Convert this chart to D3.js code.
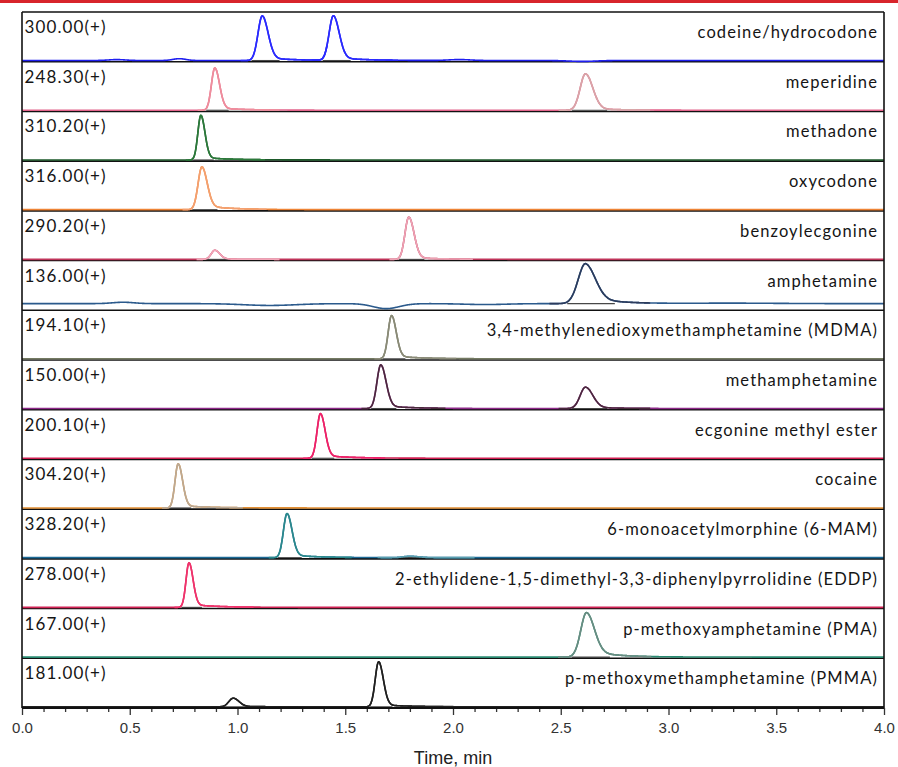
<!DOCTYPE html>
<html>
<head>
<meta charset="utf-8">
<script src="https://cdn.jsdelivr.net/npm/d3@7/dist/d3.min.js"></script>
<style>
  html, body { margin: 0; padding: 0; background: #ffffff; }
  svg { display: block; }
  .ion { font-family: Lato, "Open Sans", sans-serif; font-size: 17px; fill: #151515; letter-spacing: 1.1px; }
  .cmp { font-family: Lato, "Open Sans", sans-serif; font-size: 16.5px; fill: #151515; letter-spacing: 1.1px; }
  .axis text { font-family: "Liberation Sans", Arial, sans-serif; font-size: 15px; fill: #333; }
  .axis path { display: none; }
  .axis line { stroke: #333; stroke-width: 1.3; }
  .xtitle { font-family: "Liberation Sans", Arial, sans-serif; font-size: 18px; fill: #222; }
</style>
</head>
<body>
<script>
// MRM extracted-ion chromatograms, one trace per analyte
const compounds = [
  "codeine/hydrocodone", "meperidine", "methadone", "oxycodone", "benzoylecgonine",
  "amphetamine", "3,4-methylenedioxymethamphetamine (MDMA)", "methamphetamine",
  "ecgonine methyl ester", "cocaine", "6-monoacetylmorphine (6-MAM)",
  "2-ethylidene-1,5-dimethyl-3,3-diphenylpyrrolidine (EDDP)",
  "p-methoxyamphetamine (PMA)", "p-methoxymethamphetamine (PMMA)"
];
const ionLabels = [
  "300.00(+)", "248.30(+)", "310.20(+)", "316.00(+)", "290.20(+)", "136.00(+)",
  "194.10(+)", "150.00(+)", "200.10(+)", "304.20(+)", "328.20(+)", "278.00(+)",
  "167.00(+)", "181.00(+)"
];
// retention times (min), relative intensities and peak widths (sigma, min)
const peakTimes = [
  [1.115, 1.445], [0.895, 2.615], [0.83], [0.835], [0.895, 1.795], [2.615],
  [1.715], [1.665, 2.615], [1.385], [0.725], [1.23, 1.80], [0.775], [2.62], [0.98, 1.655]
];
const peakHeights = [
  [0.98, 0.98], [0.93, 0.80], [0.98], [0.94], [0.20, 0.93], [0.88],
  [0.95], [0.96, 0.47], [0.98], [0.97], [0.97, 0.03], [0.98], [0.98], [0.19, 0.99]
];
const peakWidths = [
  [0.020, 0.020], [0.016, 0.025], [0.014], [0.018], [0.017, 0.018], [0.034],
  [0.016], [0.018, 0.025], [0.016], [0.015], [0.017, 0.03], [0.014], [0.027], [0.02, 0.016]
];
// tailing fraction of each trace's peaks
const peakTailing = [0.07, 0.06, 0.06, 0.10, 0.05, 0.18, 0.07, 0.07, 0.07, 0.06, 0.07, 0.07, 0.15, 0.05];
// baseline level and slow baseline wander (time, relative amplitude, width)
const baselineLevels = [0, 0, 0, 0, 0, 0.12, 0, 0, 0, 0, 0, 0, 0, 0];
const driftTimes = [[0.44, 0.73, 2.03, 2.6], [], [], [], [], [0.47, 1.15, 1.69, 2.15, 3.3], [], [], [], [], [], [], [], []];
const driftAmps  = [[0.02, 0.04, 0.02, -0.02], [], [], [], [], [0.03, -0.04, -0.11, -0.02, 0.01], [], [], [], [], [], [], [], []];
const driftWidths = [[0.04, 0.03, 0.05, 0.06], [], [], [], [], [0.05, 0.12, 0.06, 0.1, 0.2], [], [], [], [], [], [], [], []];
const majorTicks = [0, 0.5, 1.0, 1.5, 2.0, 2.5, 3.0, 3.5, 4.0];
const tickLabels = ["0.0", "0.5", "1.0", "1.5", "2.0", "2.5", "3.0", "3.5", "4.0"];
const timeDomain = [0, 4];

// trace colours: baseline colour, then one colour per peak
const baseColors = ["#1f1ff0", "#e2638a", "#1d5a2a", "#ee8436", "#c0345a", "#2b5a8c", "#747a62",
  "#8e2a8a", "#d11f52", "#e39035", "#1d6a96", "#d22456", "#2a8a72", "#222222"];
const peakColors = [
  ["#2a2aff", "#2a2aff"], ["#ef8e9c", "#d8a6a8"], ["#2b7a3a"], ["#f4a070"], ["#f3a6b8", "#eea3b4"],
  ["#2c3b5c"], ["#8b8b78"], ["#4a2a3c", "#4a2a3c"], ["#f0206a"], ["#b9a996"], ["#2a8a8c", "#5aa0b0"],
  ["#f2326c"], ["#6a8c82"], ["#202020", "#202020"]
];

const W = 898, H = 767;
const X0 = 22, X1 = 884, Y0 = 12, Y1 = 708;

const svg = d3.select("body").append("svg").attr("width", W).attr("height", H);

svg.append("rect").attr("x", 0).attr("y", 0).attr("width", W).attr("height", 3).attr("fill", "#d8242b");

const x = d3.scaleLinear().domain(timeDomain).range([X0, X1]);
const band = d3.scaleBand().domain(compounds).range([Y0, Y1]).padding(0);

const grid = d3.range(timeDomain[0], timeDomain[1] + 1e-9, 0.0025);

function peakValue(t, rt, h, s, tail) {
  const d = t - rt;
  if (d < 0) return h * Math.exp(-0.5 * (d / s) * (d / s));
  const r = d / (s * 1.35);
  return h * ((1 - tail) * Math.exp(-0.5 * r * r) + tail * Math.exp(-d / 0.12));
}

compounds.forEach((name, i) => {
  const top = band(name), bottom = top + band.bandwidth();
  const y = d3.scaleLinear().domain([0, 1]).range([bottom - 1.2, top + 3]);
  const g = svg.append("g");

  // panel frame line
  g.append("line").attr("x1", X0).attr("x2", X1).attr("y1", bottom).attr("y2", bottom)
    .attr("stroke", "#111").attr("stroke-width", 1.6);

  const signal = t => {
    let v = baselineLevels[i];
    driftTimes[i].forEach((dt, k) => {
      const d = (t - dt) / driftWidths[i][k];
      v += driftAmps[i][k] * Math.exp(-0.5 * d * d);
    });
    peakTimes[i].forEach((rt, k) => {
      v += peakValue(t, rt, peakHeights[i][k], peakWidths[i][k], peakTailing[i]);
    });
    return v;
  };
  const pts = grid.map(t => [t, signal(t)]);
  const line = d3.line().x(d => x(d[0])).y(d => y(d[1])).curve(d3.curveMonotoneX);

  g.append("path").attr("d", line(pts)).attr("fill", "none")
    .attr("stroke", baseColors[i]).attr("stroke-width", 1.6);

  peakTimes[i].forEach((rt, k) => {
    const s = peakWidths[i][k];
    const lo = rt - 2.5 * s, hi = rt + Math.max(4 * s, 0.06);
    // integration baseline under the peak
    g.append("line").attr("x1", x(lo)).attr("x2", x(hi))
      .attr("y1", y(baselineLevels[i])).attr("y2", y(baselineLevels[i]))
      .attr("stroke", "#1a1a1a").attr("stroke-width", 1.1).attr("stroke-opacity", 0.8);
    const seg = pts.filter(p => p[0] >= rt - 5 * s && p[0] <= rt + Math.max(7 * s, 0.3));
    g.append("path").attr("d", line(seg)).attr("fill", "none")
      .attr("stroke", peakColors[i][k]).attr("stroke-width", 1.6);
  });

  g.append("text").attr("class", "ion").attr("x", X0 + 2.5).attr("y", top + 21).text(ionLabels[i]);
  g.append("text").attr("class", "cmp").attr("x", X1 - 6).attr("y", top + 26)
    .attr("text-anchor", "end").text(name);
});

// outer frame
svg.append("line").attr("x1", X0).attr("x2", X1).attr("y1", Y0).attr("y2", Y0).attr("stroke", "#111").attr("stroke-width", 1.6);
svg.append("line").attr("x1", X0).attr("x2", X0).attr("y1", Y0).attr("y2", Y1).attr("stroke", "#111").attr("stroke-width", 1.6);
svg.append("line").attr("x1", X1).attr("x2", X1).attr("y1", Y0).attr("y2", Y1).attr("stroke", "#111").attr("stroke-width", 1.6);

// time axis: minor ticks every 0.1 min, labelled major ticks every 0.5 min
const minorTicks = d3.range(0, 41).map(v => v / 10).filter(v => Math.abs(v * 2 - Math.round(v * 2)) > 1e-6);
svg.append("g").attr("class", "axis").attr("transform", `translate(0,${Y1})`)
  .call(d3.axisBottom(x).tickValues(minorTicks).tickSize(4).tickFormat(""));
svg.append("g").attr("class", "axis").attr("transform", `translate(0,${Y1})`)
  .call(d3.axisBottom(x).tickValues(majorTicks).tickSize(7).tickPadding(7)
    .tickFormat((d, k) => tickLabels[k]));
svg.append("line").attr("x1", X0).attr("x2", X1).attr("y1", Y1).attr("y2", Y1).attr("stroke", "#111").attr("stroke-width", 1.8);

svg.append("text").attr("class", "xtitle").attr("x", (X0 + X1) / 2).attr("y", 764)
  .attr("text-anchor", "middle").text("Time, min");
</script>
</body>
</html>
